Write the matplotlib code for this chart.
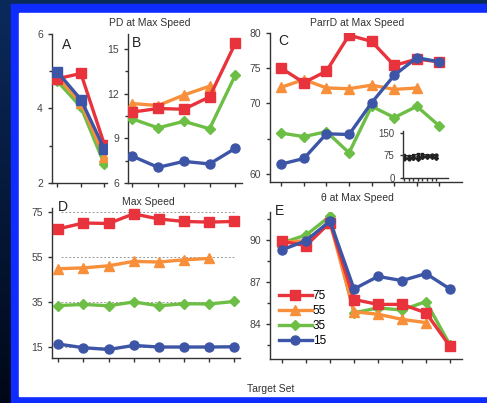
import numpy as np
import matplotlib
matplotlib.use("Agg")
import matplotlib.pyplot as plt
from matplotlib.patches import Rectangle

plt.rcParams['font.family'] = ['Liberation Sans', 'DejaVu Sans']

W, H = 487, 403

# series labels and styles
labels = ['75', '55', '35', '15']
colors = ['#e8333c', '#f88f3a', '#6dbe45', '#3d55a6']
markers = ['s', '^', 'D', 'o']

# A: PD at Max Speed (first panel)
pdA = [[4.80, 4.94, 3.03],
       [4.85, 4.15, 2.70],
       [4.73, 4.04, 2.50],
       [4.98, 4.24, 2.91]]
# B: PD at Max Speed (second panel)
pdB = [[10.76, 11.00, 10.95, 11.78, 15.38],
       [11.33, 11.20, 11.90, 12.50],
       [10.30, 9.70, 10.14, 9.64, 13.24],
       [7.80, 7.05, 7.45, 7.28, 8.33]]
# C: ParrD at Max Speed
parrd = [[75.0, 72.95, 74.6, 79.7, 78.8, 75.4, 76.3, 75.9],
         [72.3, 73.4, 72.2, 72.1, 72.6, 72.0, 72.2],
         [65.8, 65.3, 66.0, 63.0, 69.6, 68.0, 69.6, 66.8],
         [61.4, 62.2, 65.7, 65.6, 70.1, 74.0, 76.5, 75.9]]
# D: Max Speed
speed = [[67.7, 70.3, 70.1, 74.4, 72.1, 71.0, 70.7, 71.0],
         [49.9, 50.3, 51.2, 53.2, 52.9, 53.9, 54.5],
         [33.5, 34.0, 33.4, 35.1, 33.4, 34.3, 34.2, 35.3],
         [16.3, 14.7, 13.9, 15.7, 15.0, 15.0, 15.0, 15.1]]
targets = [75, 55, 35, 15]
# E: theta at Max Speed
theta = [[89.9, 89.6, 91.25, 85.75, 85.4, 85.4, 84.8, 82.4],
         [89.83, 89.95, 91.25, 84.87, 84.7, 84.33, 84.1],
         [89.8, 90.35, 91.7, 84.8, 85.15, 85.0, 85.6, 82.5],
         [89.3, 89.95, 91.35, 86.5, 87.4, 87.1, 87.6, 86.5]]

fig = plt.figure(figsize=(W / 100, H / 100), dpi=100)

# background: dark gradient, blue frame, white panel
bg = fig.add_axes([0, 0, 1, 1], zorder=-10)
grad = np.linspace(0, 1, 256).reshape(-1, 1)
bg.imshow(grad, aspect='auto', extent=[0, 1, 0, 1], origin='upper',
          cmap=matplotlib.colors.LinearSegmentedColormap.from_list('bg', ['#0b2a5c', '#000818']))
bg.add_patch(Rectangle((11 / W, 0), 1, 1 - 4 / H, color='#0f2cff', zorder=2))
bg.add_patch(Rectangle((19 / W, 1 - 396 / H), 1, (396 - 13) / H, color='white', zorder=3))
bg.set_xlim(0, 1)
bg.set_ylim(0, 1)
bg.axis('off')


def box(x0, x1, y0, y1):
    return [x0 / W, 1 - y1 / H, (x1 - x0) / W, (y1 - y0) / H]


def style(ax):
    for s in ['top', 'right']:
        ax.spines[s].set_visible(False)
    for s in ['left', 'bottom']:
        ax.spines[s].set_color('#333333')
        ax.spines[s].set_linewidth(1.0)
    ax.tick_params(axis='both', which='both', direction='out', colors='#333333',
                   labelsize=7.5, width=1.0, labelcolor='#444444')
    ax.tick_params(which='major', length=3)
    ax.tick_params(which='minor', length=2.5)
    ax.set_xticklabels([])


def draw(ax, data, mk=None):
    for i, ys in enumerate(data):
        m = markers[i] if mk is None else mk[i]
        ms = 5.5 if m == 'D' else 6.5
        ax.plot(range(len(ys)), ys, color=colors[i], marker=m, lw=2.4, ms=ms,
                label=labels[i], zorder=5 - i if i != 3 else 6)


# A
axA = fig.add_axes(box(52, 107, 34, 183))
draw(axA, pdA, mk=['s', '^', 'D', 's'])
axA.set_xlim(-0.23, 2.11)
axA.set_ylim(2, 6)
axA.set_yticks([2, 4, 6])
axA.set_yticks([3, 5], minor=True)
axA.set_xticks(range(3))
style(axA)
axA.text(0.2, 5.9, 'A', fontsize=10, va='top', color='#222222')

# B
axB = fig.add_axes(box(128, 242, 34, 183))
draw(axB, pdB)
axB.set_xlim(-0.17, 4.26)
axB.set_ylim(6, 16)
axB.set_yticks([6, 9, 12, 15])
axB.set_yticks([7.5, 10.5, 13.5], minor=True)
axB.set_xticks(range(5))
style(axB)
axB.text(0.0, 15.85, 'B', fontsize=10, va='top', color='#222222')
fig.text(150 / W, 1 - 23 / H, 'PD at Max Speed', ha='center', va='center',
         fontsize=7.5, color='#333333')

# C
axC = fig.add_axes(box(270, 462, 33, 182))
draw(axC, parrd)
axC.set_xlim(-0.5, 8.0)
axC.set_ylim(58.86, 80)
axC.set_yticks([60, 70, 75, 80])
axC.set_yticks([65], minor=True)
axC.set_xticks(range(8))
style(axC)
axC.text(-0.15, 79.8, 'C', fontsize=10, va='top', color='#222222')
fig.text(357 / W, 1 - 23 / H, 'ParrD at Max Speed', ha='center', va='center',
         fontsize=7.5, color='#333333')

# inset in C
axI = fig.add_axes(box(403, 448, 131, 178))
axI.set_facecolor('none')
for i, ys in enumerate(parrd):
    axI.plot(range(len(ys)), ys, color='#222222', marker=markers[i], lw=0.8, ms=2)
axI.set_xlim(-0.2, 9.5)
axI.set_ylim(0, 155)
axI.set_yticks([0, 75, 150])
axI.set_xticks(range(8))
style(axI)
axI.tick_params(labelsize=7, length=2.5)
axI.tick_params(axis='x', length=2)

# D
axD = fig.add_axes(box(52, 240, 208, 358))
for t in targets:
    axD.axhline(t, xmin=0.05, xmax=0.97, color='#999999', lw=0.7, ls=(0, (2, 2)), zorder=1)
draw(axD, speed)
axD.set_xlim(-0.25, 7.23)
axD.set_ylim(10.1, 77)
axD.set_yticks([15, 35, 55, 75])
axD.set_xticks(range(8))
style(axD)
axD.text(0.0, 80.5, 'D', fontsize=10, va='top', color='#222222', clip_on=False)
fig.text(148 / W, 1 - 202 / H, 'Max Speed', ha='center', va='center',
         fontsize=7.5, color='#333333')

# E
axE = fig.add_axes(box(270, 462, 212, 359))
draw(axE, theta)
axE.set_xlim(-0.5, 7.5)
axE.set_ylim(81.5, 92)
axE.set_yticks([84, 87, 90])
axE.set_yticks([82.5, 85.5, 88.5, 91.5], minor=True)
axE.set_xticks(range(8))
style(axE)
axE.text(-0.3, 92.55, 'E', fontsize=10, va='top', color='#222222', clip_on=False)
fig.text(357 / W, 1 - 198 / H, '\u03b8 at Max Speed', ha='center', va='center',
         fontsize=7.5, color='#333333')
leg = axE.legend(loc='upper left', bbox_to_anchor=(0.02, 0.50), frameon=False,
                 fontsize=8.5, handlelength=2.8, handletextpad=0.1,
                 labelspacing=0.25, borderaxespad=0.0)

fig.text(271 / W, 1 - 389 / H, 'Target Set', ha='center', va='center',
         fontsize=7.5, color='#333333')

fig.savefig('out.png', dpi=100)
